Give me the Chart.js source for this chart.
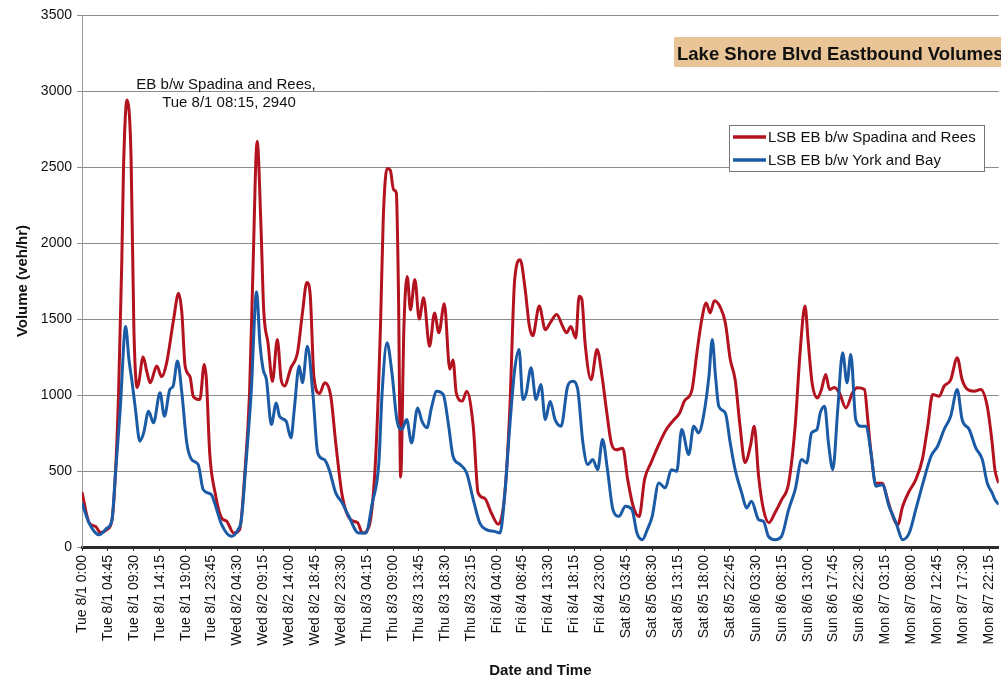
<!DOCTYPE html>
<html>
<head>
<meta charset="utf-8">
<script src="https://cdn.jsdelivr.net/npm/chart.js@4.4.1/dist/chart.umd.min.js"></script>
<style>
  html, body { margin: 0; padding: 0; background: #fff; overflow: hidden; }
  canvas { display: block; }
</style>
</head>
<body>
<canvas id="lsb_volumes" width="1010" height="683"></canvas>
<script>
// x values are hours since Tue 8/1 0:00
const spadinaHours = [0, 1.3, 2.5, 3.4, 4.6, 5.5, 6.1, 6.7, 7.3, 7.6, 8.25, 9.0, 9.5, 10.1, 10.4, 11.2, 11.9, 12.5, 13.7, 14.6, 15.5, 16.8, 17.7, 18.3, 18.9, 19.8, 20.4, 21.6, 22.4, 22.8, 23.4, 24.4, 25.6, 26.5,
  27.8, 28.9, 29.8, 30.7, 31.3, 32.1, 32.8, 33.3, 34.1, 34.9, 35.8, 36.5, 37.1, 38.3, 39.5, 40.4, 41.2, 41.8, 42.5, 43.5, 44.5, 45.6, 46.5, 47.7, 49.2, 50.5, 51.4, 52.6, 53.8,
  54.7, 55.2, 55.9, 56.5, 57.1, 57.6, 58.0, 58.4, 59.0, 59.6, 60.2, 61.0, 61.8, 62.6, 63.7, 64.6, 65.4, 66.4, 67.4, 68.0, 68.6, 69.7, 70.5, 71.7, 72.6, 73.8, 75.0, 76.3, 77.5, 78.4, 79.3, 80.3,
  81.2, 82.0, 82.6, 83.8, 84.9, 85.8, 87.0, 88.1, 88.8, 89.6, 90.5, 91.1, 91.6, 92.2, 93.3, 94.4, 95.3, 96.1, 97.0, 97.9, 99.1, 100.0, 101.0, 102.1, 103.1, 104.3, 105.6, 107.1, 108.3, 109.5,
  110.4, 111.8, 112.7, 113.6, 114.4, 115.1, 115.9, 117.0, 117.9, 118.8, 119.7, 120.6, 121.5, 122.5, 123.2, 124.0, 124.9, 125.9, 127.0, 128.2, 129.5, 130.7, 131.6, 132.5, 133.1, 133.8, 134.8, 135.5, 136.3, 137.0,
  137.9, 138.8, 140.0, 141.2, 142.1, 143.4, 144.0, 144.6, 145.5, 146.7, 147.3, 148.2, 149.5, 150.4, 151.6, 152.8, 154.0, 155.0, 155.9, 157.1, 158.0, 159.2, 160.4, 161.3, 162.3, 163.5, 164.7, 165.9, 166.8, 167.3, 168];
const spadinaVol = [360, 160, 135, 95, 115, 180, 465, 1010, 1890, 2480, 2940, 2550, 1450, 1050, 1080, 1250, 1150, 1080, 1190, 1120, 1210, 1500, 1670, 1540, 1190, 1120, 990, 970, 1200, 1100, 620, 355, 190, 170,
  92, 115, 465, 1010, 1780, 2670, 2110, 1560, 1340, 1090, 1365, 1100, 1060, 1180, 1280, 1540, 1740, 1670, 1120, 1010, 1080, 990, 685, 335, 180, 160, 92, 135, 575,
  1450, 2150, 2490, 2480, 2350, 2330, 1670, 460, 1450, 1780, 1560, 1760, 1500, 1640, 1320, 1540, 1410, 1600, 1170, 1230, 1010, 960, 1025, 795, 355, 320, 225, 150, 355, 905, 1760, 1890,
  1700, 1450, 1390, 1585, 1430, 1475, 1530, 1450, 1410, 1450, 1375, 1650, 1630, 1340, 1100, 1300, 1125, 905, 685, 640, 650, 445, 270, 200, 445, 555, 665, 775, 830, 880,
  960, 1036, 1280, 1500, 1605, 1540, 1620, 1575, 1475, 1235, 1100, 795, 555, 665, 795, 465, 245, 160, 225, 310, 420, 795, 1280, 1585, 1345, 1080, 980, 1035, 1135, 1036,
  1050, 1014, 915, 1014, 1047, 1036, 840, 620, 420, 420, 355, 245, 147, 268, 367, 443, 575, 795, 1003, 992, 1058, 1100, 1245, 1100, 1036, 1025, 1036, 926, 685, 509, 420];

const yorkHours = [0, 1.3, 3.1, 4.6, 5.5, 6.1, 7.0, 8.0, 8.6, 9.2, 9.8, 10.6, 11.3, 12.2, 13.1, 14.3, 15.1, 16.1, 16.7, 17.5, 18.3, 19.2, 20.1, 21.3, 22.2, 23.7, 24.3, 25.6, 27.4, 28.6,
  29.2, 30.1, 31.0, 32.0, 32.6, 33.2, 33.8, 34.7, 35.6, 36.2, 37.4, 38.3, 38.9, 39.8, 40.4, 41.3, 42.3, 43.2, 44.4, 45.3, 46.5, 47.7, 48.9, 50.7, 52.0, 53.2, 54.4,
  55.0, 55.9, 56.8, 57.7, 58.6, 59.5, 60.4, 61.5, 62.3, 63.2, 64.1, 65.0, 66.2, 67.2, 68.0, 69.3, 70.5, 71.7, 72.9, 74.1, 75.6, 76.6, 77.5, 78.4, 79.3, 80.1, 80.8, 81.4, 82.3, 83.2,
  84.1, 84.9, 85.8, 86.7, 87.8, 89.0, 89.9, 90.8, 91.8, 92.7, 93.6, 94.5, 95.4, 96.3, 97.3, 98.4, 99.6, 100.8, 101.7, 102.7, 103.6, 104.5, 105.7, 106.9, 108.0, 109.0, 109.9,
  111.2, 112.1, 113.0, 114.0, 114.9, 115.5, 116.1, 116.7, 117.9, 118.8, 119.7, 120.9, 121.8, 122.7, 124.0, 124.9, 125.8, 127.0, 128.2, 129.5, 130.7, 131.9, 132.8, 133.7, 134.7, 135.3, 136.1, 136.8,
  137.6, 138.5, 139.4, 140.2, 140.9, 141.8, 142.8, 143.7, 144.6, 145.5, 146.7, 147.9, 149.2, 150.4, 151.6, 152.8, 154.3, 155.6, 156.8, 158.0, 159.2, 160.4, 161.3, 162.6, 163.8, 165.0, 165.9, 166.8, 167.3, 168];
const yorkVol = [290, 158, 81, 125, 180, 465, 904, 1450, 1234, 1080, 904, 696, 751, 893, 817, 1014, 860, 1036, 1058, 1223, 1014, 685, 575, 542, 378, 345, 290, 147, 70, 114,
  180, 575, 1014, 1680, 1343, 1168, 1102, 806, 948, 860, 828, 718, 904, 1190, 1080, 1321, 1014, 619, 575, 509, 356, 290, 202, 92, 92, 290, 553,
  1014, 1343, 1146, 838, 773, 838, 685, 915, 828, 784, 926, 1025, 1003, 795, 597, 542, 487, 312, 158, 114, 103, 92, 356, 795, 1168, 1300, 970, 1010, 1180, 970,
  1069, 838, 959, 838, 795, 1058, 1091, 1047, 685, 542, 575, 509, 707, 509, 246, 202, 268, 246, 92, 48, 114, 202, 421, 389, 509, 498, 773,
  608, 795, 751, 882, 1124, 1365, 1124, 926, 882, 685, 509, 356, 257, 301, 180, 169, 70, 48, 70, 246, 378, 575, 553, 751, 773, 882, 926, 685,
  509, 904, 1278, 1080, 1267, 838, 795, 795, 619, 400, 410, 268, 158, 48, 92, 246, 443, 597, 663, 773, 860, 1036, 838, 773, 652, 575, 421, 356, 312, 280];

const tickLabels = ['Tue 8/1 0:00', 'Tue 8/1 04:45', 'Tue 8/1 09:30', 'Tue 8/1 14:15', 'Tue 8/1 19:00', 'Tue 8/1 23:45',
  'Wed 8/2 04:30', 'Wed 8/2 09:15', 'Wed 8/2 14:00', 'Wed 8/2 18:45', 'Wed 8/2 23:30',
  'Thu 8/3 04:15', 'Thu 8/3 09:00', 'Thu 8/3 13:45', 'Thu 8/3 18:30', 'Thu 8/3 23:15',
  'Fri 8/4 04:00', 'Fri 8/4 08:45', 'Fri 8/4 13:30', 'Fri 8/4 18:15', 'Fri 8/4 23:00',
  'Sat 8/5 03:45', 'Sat 8/5 08:30', 'Sat 8/5 13:15', 'Sat 8/5 18:00', 'Sat 8/5 22:45',
  'Sun 8/6 03:30', 'Sun 8/6 08:15', 'Sun 8/6 13:00', 'Sun 8/6 17:45', 'Sun 8/6 22:30',
  'Mon 8/7 03:15', 'Mon 8/7 08:00', 'Mon 8/7 12:45', 'Mon 8/7 17:30', 'Mon 8/7 22:15'];
const tickStep = 4.75; // hours between labels (19 x 15 min)

const FONT = '"Liberation Sans", Arial, sans-serif';

// title box, peak note and legend box drawn on top of the chart
const overlays = {
  id: 'overlays',
  afterDraw(chart) {
    const ctx = chart.ctx;
    ctx.save();
    // title
    ctx.fillStyle = '#e8c497';
    ctx.fillRect(674, 37, 340, 30);
    ctx.fillStyle = '#111';
    ctx.font = 'bold 18.5px ' + FONT;
    ctx.textBaseline = 'alphabetic';
    ctx.textAlign = 'left';
    ctx.fillText('Lake Shore Blvd Eastbound Volumes', 677, 60);

    // peak note
    ctx.font = '15px ' + FONT;
    ctx.textAlign = 'center';
    ctx.fillText('EB b/w Spadina and Rees,', 226, 89);
    ctx.fillText('Tue 8/1 08:15, 2940', 229, 107);

    // legend
    ctx.fillStyle = '#fff';
    ctx.fillRect(729, 125, 255, 46);
    ctx.strokeStyle = '#777';
    ctx.lineWidth = 1;
    ctx.strokeRect(729.5, 125.5, 255, 46);
    ctx.textAlign = 'left';
    ctx.textBaseline = 'middle';
    chart.data.datasets.forEach((ds, i) => {
      const y = 137 + i * 23;
      ctx.strokeStyle = ds.borderColor;
      ctx.lineWidth = 3.5;
      ctx.beginPath();
      ctx.moveTo(733, y);
      ctx.lineTo(766, y);
      ctx.stroke();
      ctx.fillStyle = '#111';
      ctx.fillText(ds.label, 768, y + 1);
    });
    ctx.restore();
  }
};

const toPoints = (hours, vols) => hours.map((h, i) => ({x: h, y: vols[i]}));

const chart = new Chart(document.getElementById('lsb_volumes'), {
  type: 'line',
  data: {
    datasets: [
      {
        label: 'LSB EB b/w Spadina and Rees',
        data: toPoints(spadinaHours, spadinaVol),
        borderColor: '#b3121f',
        order: 2
      },
      {
        label: 'LSB EB b/w York and Bay',
        data: toPoints(yorkHours, yorkVol),
        borderColor: '#1b5ba5',
        order: 1
      }
    ]
  },
  options: {
    responsive: false,
    animation: false,
    devicePixelRatio: 1,
    layout: {padding: {left: 10, top: 15, right: 5, bottom: 0}},
    elements: {
      line: {borderWidth: 3, cubicInterpolationMode: 'monotone', fill: false},
      point: {radius: 0}
    },
    plugins: {
      legend: {display: false},
      tooltip: {enabled: false}
    },
    scales: {
      x: {
        type: 'linear',
        min: 0,
        max: 168,
        afterBuildTicks: scale => {
          scale.ticks = tickLabels.map((l, i) => ({value: i * tickStep}));
        },
        afterFit: scale => { scale.height = 136; },
        ticks: {
          autoSkip: false,
          minRotation: 90,
          maxRotation: 90,
          padding: 4,
          color: '#111',
          font: {family: FONT, size: 14},
          callback: (v, i) => tickLabels[i]
        },
        grid: {drawOnChartArea: false, tickLength: 4, color: '#333'},
        border: {color: '#2b2b2b', width: 3},
        title: {
          display: true,
          text: 'Date and Time',
          color: '#111',
          font: {family: FONT, size: 15, weight: 'bold'},
          padding: {top: 0, bottom: 3}
        }
      },
      y: {
        min: 0,
        max: 3500,
        afterFit: scale => { scale.width = 72; },
        ticks: {
          stepSize: 500,
          padding: 5,
          color: '#111',
          font: {family: FONT, size: 14},
          callback: v => String(v)
        },
        grid: {color: '#8c8c8c', tickLength: 5},
        border: {color: '#999'},
        title: {
          display: true,
          text: 'Volume (veh/hr)',
          color: '#111',
          font: {family: FONT, size: 15, weight: 'bold'},
          padding: {top: 4, bottom: 0}
        }
      }
    }
  },
  plugins: [overlays]
});
</script>
</body>
</html>
